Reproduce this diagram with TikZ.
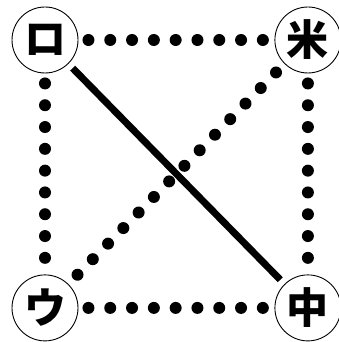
\documentclass[tikz,border=0pt]{standalone}
\usepackage{fontspec}
\newfontfamily\cjk{Noto Sans CJK JP}[BoldFont={Noto Sans CJK JP Black}]
\usetikzlibrary{positioning}

\begin{document}
\begin{tikzpicture}[x=1pt,y=1pt,
  kana/.style={circle,draw,line width=0.9pt,minimum size=66pt,inner sep=0pt,
               font=\cjk\bfseries\fontsize{42}{42}\selectfont},
  dots/.style={line width=12pt,line cap=round,dash pattern=on 0pt off 21.8pt,
               shorten <=10pt,shorten >=10pt},
  bar/.style={line width=7pt,shorten <=6pt,shorten >=6pt}
]
  \useasboundingbox (0,0) rectangle (338,342);
  \node[kana] (ro) at (45,302) {ロ};
  \node[kana,right=196pt of ro] (kome) {米};
  \node[kana,below=201pt of ro] (u) {ウ};
  \node[kana,below=201pt of kome] (naka) {中};
  \draw[dots] (ro) -- (kome);
  \draw[dots] (ro) -- (u);
  \draw[dots] (kome) -- (naka);
  \draw[dots] (u) -- (naka);
  \draw[dots,shorten <=13pt,shorten >=10pt] (u) -- (kome);
  \draw[bar] (ro) -- (naka);
\end{tikzpicture}
\end{document}
